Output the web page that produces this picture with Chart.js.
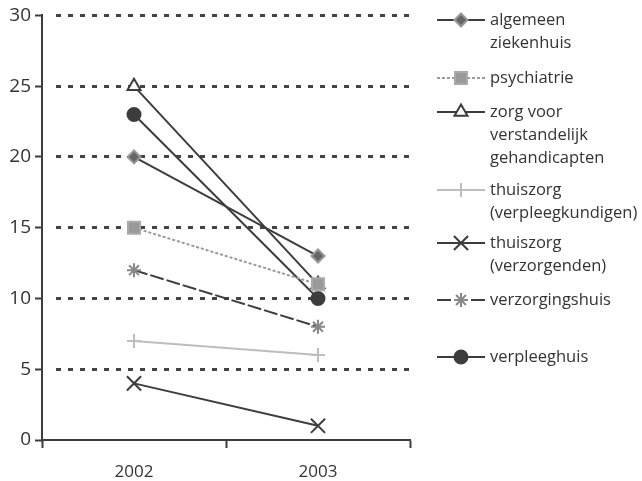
<!DOCTYPE html>
<html>
<head>
<meta charset="utf-8">
<style>
  html, body { margin: 0; padding: 0; background: #fff; }
  #wrap { width: 642px; height: 481px; }
</style>
</head>
<body>
<div id="wrap">
    <canvas id="myChart" width="642" height="481"></canvas>
</div>
<script src="https://cdn.jsdelivr.net/npm/chart.js"></script>
<script>
// jaren op de x-as
const years = ['2002', '2003'];

// waarden per sector
const algemeenZiekenhuis = [20, 13];
const psychiatrie = [15, 11];
const zorgVerstandelijk = [25, 11];
const thuiszorgVerpleeg = [7, 6];
const thuiszorgVerzorg = [4, 1];
const verzorgingshuis = [12, 8];
const verpleeghuis = [23, 10];

// legendateksten (meerdere regels)
const legendLines = [
    ['algemeen', 'ziekenhuis'],
    ['psychiatrie'],
    ['zorg voor', 'verstandelijk', 'gehandicapten'],
    ['thuiszorg', '(verpleegkundigen)'],
    ['thuiszorg', '(verzorgenden)'],
    ['verzorgingshuis'],
    ['verpleeghuis']
];

const dark = '#3d3d3d';
const textColor = '#333';

function ds(label, data, style) {
    return Object.assign({
        label: label,
        data: data,
        borderWidth: 2,
        pointBorderWidth: 2,
        fill: false,
        tension: 0
    }, style);
}

const datasets = [
    ds('algemeen ziekenhuis', algemeenZiekenhuis, {
        borderColor: dark, pointStyle: 'rectRot', pointRadius: 6.5,
        pointBackgroundColor: '#666', pointBorderColor: '#999'
    }),
    ds('psychiatrie', psychiatrie, {
        borderColor: '#9a9a9a', borderDash: [3, 2], pointStyle: 'rect', pointRadius: 8.5,
        pointBackgroundColor: '#999', pointBorderColor: '#aaa'
    }),
    ds('zorg voor verstandelijk gehandicapten', zorgVerstandelijk, {
        borderColor: dark, pointStyle: 'triangle', pointRadius: 7.5,
        pointBackgroundColor: '#fff', pointBorderColor: dark
    }),
    ds('thuiszorg (verpleegkundigen)', thuiszorgVerpleeg, {
        borderColor: '#bdbdbd', pointStyle: 'cross', pointRadius: 7,
        pointBackgroundColor: '#bdbdbd', pointBorderColor: '#bdbdbd'
    }),
    ds('thuiszorg (verzorgenden)', thuiszorgVerzorg, {
        borderColor: dark, pointStyle: 'crossRot', pointRadius: 10,
        pointBackgroundColor: dark, pointBorderColor: dark
    }),
    ds('verzorgingshuis', verzorgingshuis, {
        borderColor: dark, borderDash: [14, 3], pointStyle: 'star', pointRadius: 7,
        pointBackgroundColor: '#888', pointBorderColor: '#888'
    }),
    ds('verpleeghuis', verpleeghuis, {
        borderColor: dark, pointStyle: 'circle', pointRadius: 6.5,
        pointBackgroundColor: dark, pointBorderColor: dark
    })
];

// kleine witruimte tussen y-as en de eerste streepjes van de rasterlijnen
const gridGap = {
    id: 'gridGap',
    beforeDatasetsDraw(chart) {
        const a = chart.chartArea;
        const ctx = chart.ctx;
        ctx.save();
        ctx.fillStyle = '#fff';
        ctx.fillRect(a.left + 1.5, a.top - 3, 8, a.bottom - a.top);
        ctx.restore();
    }
};

// eigen legenda rechts van de grafiek, met tekst over meerdere regels
const sideLegend = {
    id: 'sideLegend',
    afterDraw(chart) {
        const ctx = chart.ctx;
        const rowTops = [20, 78, 112, 190, 243, 300, 357];
        const lineH = 23;
        ctx.save();
        ctx.font = '16.5px "Open Sans"';
        ctx.textBaseline = 'middle';
        ctx.fillStyle = textColor;
        chart.data.datasets.forEach((d, i) => {
            const y = rowTops[i];
            ctx.save();
            ctx.strokeStyle = d.borderColor;
            ctx.lineWidth = 2;
            ctx.setLineDash(d.borderDash || []);
            ctx.beginPath();
            ctx.moveTo(437, y);
            ctx.lineTo(485, y);
            ctx.stroke();
            ctx.setLineDash([]);
            ctx.fillStyle = d.pointBackgroundColor;
            ctx.strokeStyle = d.pointBorderColor;
            ctx.lineWidth = d.pointBorderWidth;
            Chart.helpers.drawPoint(ctx, {
                pointStyle: d.pointStyle,
                radius: d.pointRadius,
                borderWidth: d.pointBorderWidth,
                rotation: 0
            }, 461, y);
            ctx.restore();
            legendLines[i].forEach((t, k) => {
                ctx.fillText(t, 490, y + k * lineH);
            });
        });
        ctx.restore();
    }
};

new Chart(document.querySelector('#myChart'), {
    type: 'line',
    data: {
        labels: years,
        datasets: datasets
    },
    plugins: [gridGap, sideLegend],
    options: {
        responsive: false,
        animation: false,
        layout: {
            padding: { top: 14, right: 232, bottom: 0, left: 0 }
        },
        plugins: {
            legend: { display: false },
            tooltip: { enabled: false }
        },
        scales: {
            x: {
                offset: true,
                afterFit(scale) { scale.height = 41; },
                grid: {
                    offset: true,
                    drawOnChartArea: false,
                    tickLength: 8,
                    tickColor: dark,
                    tickWidth: 2
                },
                border: { color: dark, width: 2 },
                ticks: {
                    color: textColor,
                    padding: 14,
                    font: { family: 'Open Sans', size: 17 }
                }
            },
            y: {
                min: 0,
                max: 30,
                afterFit(scale) { scale.width = 42; },
                grid: {
                    color: ctx => ctx.tick && ctx.tick.value === 0 ? 'rgba(0,0,0,0)' : '#444',
                    lineWidth: 3,
                    tickLength: 7,
                    tickColor: dark,
                    tickWidth: 2,
                    tickBorderDash: []
                },
                border: { color: dark, width: 2, dash: [5, 7], dashOffset: 11 },
                ticks: {
                    stepSize: 5,
                    color: textColor,
                    padding: 4,
                    font: { family: 'Open Sans', size: 19 }
                }
            }
        }
    }
});
</script>
</body>
</html>
